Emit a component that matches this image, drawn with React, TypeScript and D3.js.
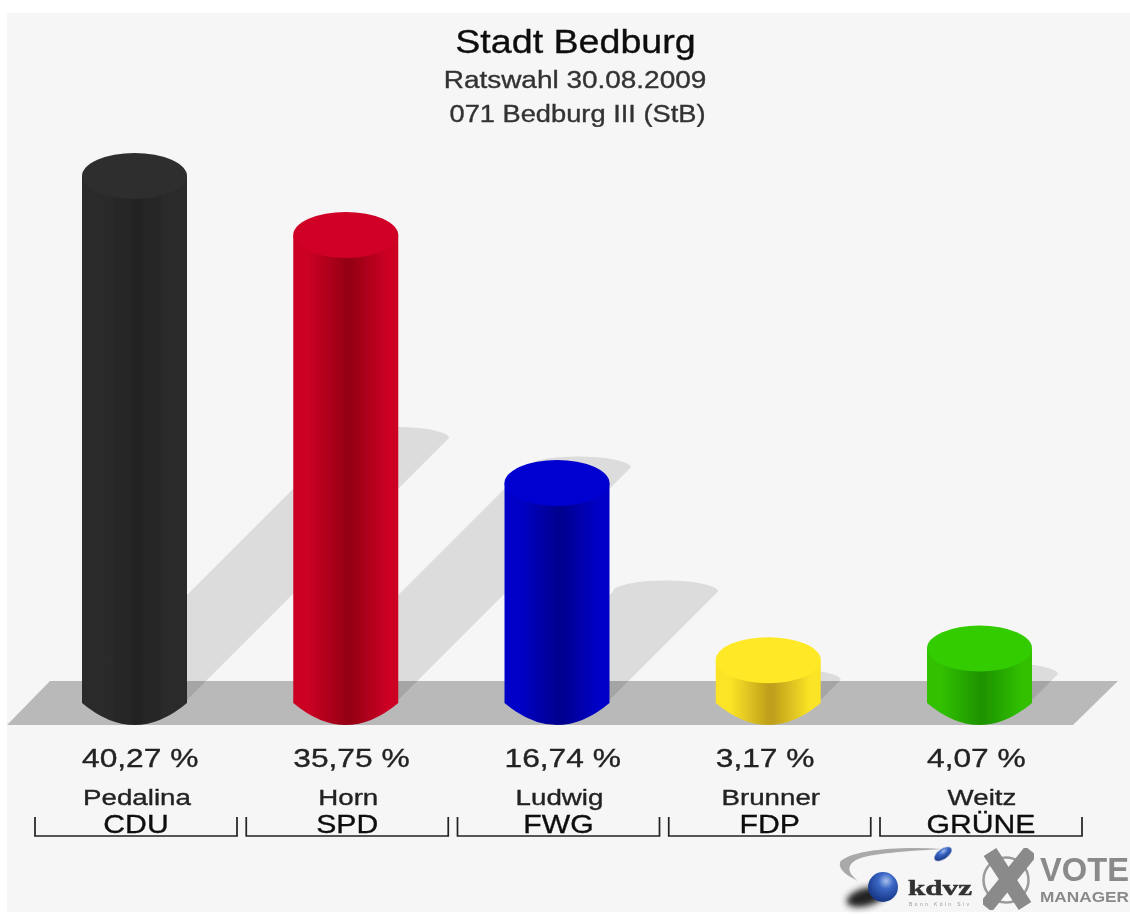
import React from "react";
import * as d3 from "d3";

const parties = ["CDU", "SPD", "FWG", "FDP", "GRÜNE"];
const candidates = ["Pedalina", "Horn", "Ludwig", "Brunner", "Weitz"];
const shares = [40.27, 35.75, 16.74, 3.17, 4.07];
const shareLabels = ["40,27 %", "35,75 %", "16,74 %", "3,17 %", "4,07 %"];
const capColors = ["#2e2e2e", "#d00028", "#0000d0", "#ffe825", "#33cc00"];
const edgeColors = ["#2c2c2c", "#cc0024", "#0000c8", "#fbe425", "#30c000"];
const midColors = ["#242424", "#960014", "#000090", "#c0a01c", "#1f9500"];
const titleLines = ["Stadt Bedburg", "Ratswahl 30.08.2009", "071 Bedburg III (StB)"];

const W = 1130;
const H = 914;
const FONT = "'Liberation Sans', Arial, sans-serif";

const x = d3.scalePoint<string>().domain(parties).range([134.5, 979.5]);
const yTop = d3.scaleLinear().domain([0, 40.27]).range([678.5, 153]);

const R = 52.5;
const RY = 23;
const BASE_Y = 700;
const BOTTOM = 725;
const FLOOR_TOP = 681;

function Label(props: {
  x: number; y: number; sx: number; size: number; fill: string; anchor?: string; children: string;
}) {
  return (
    <text
      transform={`translate(${props.x},${props.y}) scale(${props.sx},1)`}
      textAnchor={props.anchor ?? "middle"}
      fontSize={props.size}
      fill={props.fill}
      stroke={props.fill}
      strokeWidth={0.35}
    >
      {props.children}
    </text>
  );
}

export default function App() {
  const line = d3.line();
  return (
    <svg
      width={W}
      height={H}
      viewBox={`0 0 ${W} ${H}`}
      style={{ position: "absolute", left: 0, top: 0, display: "block", background: "#fff" }}
      fontFamily={FONT}
    >
      <defs>
        <filter id="soft" x="-5%" y="-5%" width="110%" height="110%">
          <feGaussianBlur stdDeviation="0.6" />
        </filter>
        <filter id="softest" x="-40%" y="-60%" width="180%" height="220%">
          <feGaussianBlur stdDeviation="3" />
        </filter>
        {parties.map((p, i) => (
          <linearGradient key={p} id={`body${i}`} x1="0" x2="1" y1="0" y2="0">
            <stop offset="0" stopColor={edgeColors[i]} />
            <stop offset="0.14" stopColor={edgeColors[i]} />
            <stop offset="0.5" stopColor={midColors[i]} />
            <stop offset="0.55" stopColor={midColors[i]} />
            <stop offset="0.9" stopColor={edgeColors[i]} />
            <stop offset="1" stopColor={edgeColors[i]} />
          </linearGradient>
        ))}
        <radialGradient id="sphere" cx="0.6" cy="0.3" r="0.75">
          <stop offset="0" stopColor="#a8c0ec" />
          <stop offset="0.35" stopColor="#3a66c4" />
          <stop offset="1" stopColor="#12307c" />
        </radialGradient>
      </defs>

      <rect x={7} y={13} width={W - 7} height={899} fill="#f6f6f6" />

      <g filter="url(#soft)">
        <path
          d={line([[50, FLOOR_TOP], [1118, FLOOR_TOP], [1073, BOTTOM], [7, BOTTOM]])! + "Z"}
          fill="#b9b9b9"
        />
        {parties.map((p, i) => {
          const cx = x(p)!;
          const capY = yTop(shares[i]) + RY;
          const d = (BASE_Y - capY) * 0.5;
          return (
            <path
              key={p}
              fill="#000"
              fillOpacity={0.105}
              d={`M${cx - R},${BASE_Y}L${cx + R},${BASE_Y}L${cx + R + d},${BASE_Y - d}
                  A${R},11 0 0 0 ${cx - R + d},${BASE_Y - d}Z`}
            />
          );
        })}
        {parties.map((p, i) => {
          const cx = x(p)!;
          const top = yTop(shares[i]);
          const capY = top + RY;
          return (
            <g key={p}>
              <path
                fill={`url(#body${i})`}
                d={`M${cx - R},${capY}L${cx + R},${capY}L${cx + R},${BASE_Y + 3}
                    Q${cx},${BOTTOM + 22} ${cx - R},${BASE_Y + 3}Z`}
              />
              <ellipse cx={cx} cy={capY} rx={R} ry={RY} fill={capColors[i]} />
            </g>
          );
        })}

        <Label x={575.5} y={53} sx={1.14} size={33} fill="#111">{titleLines[0]}</Label>
        <Label x={575} y={88} sx={1.19} size={23.5} fill="#333">{titleLines[1]}</Label>
        <Label x={577.5} y={122} sx={1.16} size={23.5} fill="#333">{titleLines[2]}</Label>

        {parties.map((p, i) => {
          const cx = x(p)!;
          return (
            <g key={p}>
              <Label x={cx - R} y={767} sx={1.22} size={26} fill="#222" anchor="start">{shareLabels[i]}</Label>
              <Label x={cx + 2.5} y={805} sx={1.26} size={22} fill="#222">{candidates[i]}</Label>
              <Label x={cx + 1.5} y={833} sx={1.16} size={26} fill="#111">{p}</Label>
              <path
                d={line([[cx - 99.5, 817], [cx - 99.5, 836], [cx + 102.5, 836], [cx + 102.5, 817]])!}
                fill="none"
                stroke="#222"
                strokeWidth={1.7}
              />
            </g>
          );
        })}
      </g>

      <g>
        <path
          d="M942,849 C900,846 850,850 840,862 C838,870 848,876 858,881 C848,873 846,866 856,860 C870,853 910,851 942,849Z"
          fill="#a9a9a9"
          filter="url(#soft)"
        />
        <ellipse cx={943} cy={854} rx={10} ry={5} fill="url(#sphere)" transform="rotate(-35 943 854)" filter="url(#soft)" />
        <ellipse cx={866} cy={897} rx={20} ry={9} fill="#222" transform="rotate(-15 866 897)" filter="url(#softest)" />
        <circle cx={883} cy={887} r={15} fill="url(#sphere)" filter="url(#soft)" />
        <text x={908} y={895} fontFamily="'Liberation Serif', serif" fontWeight="bold" fontSize={22} fill="#333" stroke="#333" strokeWidth={0.5} textLength={64} lengthAdjust="spacingAndGlyphs" filter="url(#soft)">kdvz</text>
        <text x={909} y={906} fontSize={5} fill="#999" textLength={60} filter="url(#soft)">Bonn  Köln  Siv</text>
        <circle cx={1006} cy={880} r={22.5} fill="none" stroke="#9a9a9a" strokeWidth={2.5} filter="url(#soft)" />
        <path d="M990,852L1025,906M1031,851L986,907" fill="none" stroke="#8a8a8a" strokeWidth={15} filter="url(#soft)" />
        <text x={1040} y={881} fontWeight="bold" fontSize={33} fill="#8a8a8a" textLength={89} lengthAdjust="spacingAndGlyphs" filter="url(#soft)">VOTE</text>
        <text x={1040} y={902} fontWeight="bold" fontSize={15.5} fill="#8a8a8a" textLength={89} lengthAdjust="spacingAndGlyphs" filter="url(#soft)">MANAGER</text>
      </g>
    </svg>
  );
}
